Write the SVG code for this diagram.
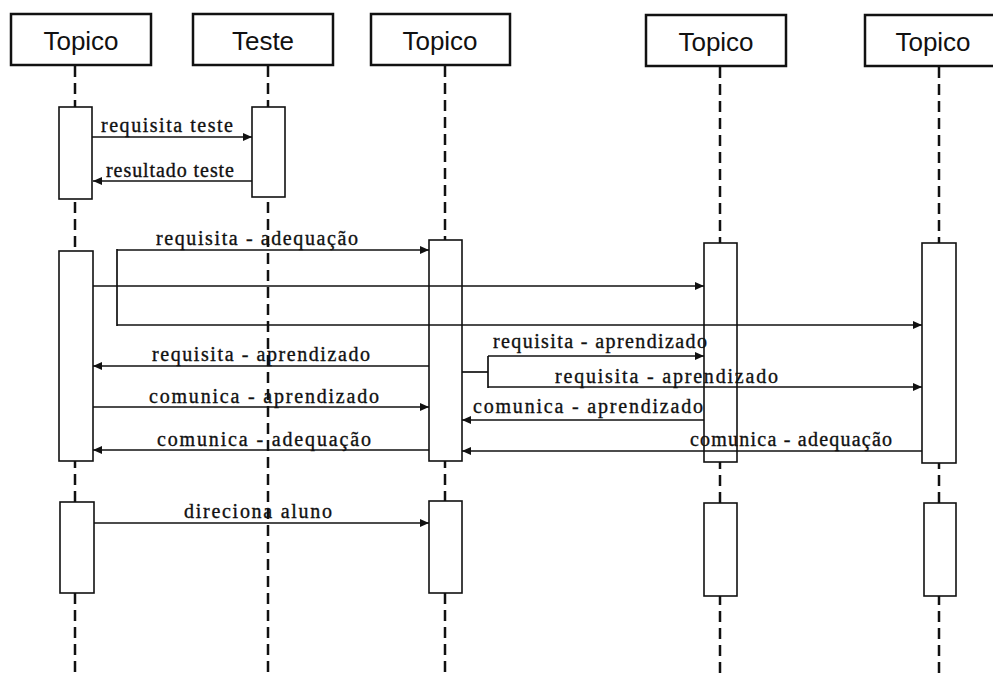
<svg xmlns="http://www.w3.org/2000/svg" width="993" height="676" viewBox="0 0 993 676">
  <defs>
    <marker id="arrow" viewBox="0 0 9 9" refX="9" refY="4.5" markerWidth="9" markerHeight="9" markerUnits="userSpaceOnUse" orient="auto">
      <path d="M0,0.5 L9,4.5 L0,8.5 Z" fill="#111"/>
    </marker>
    <style>
      .head { fill: #fff; stroke: #111; stroke-width: 2.5; }
      .headtxt { font-family: "Liberation Sans", Arial, sans-serif; font-size: 26px; fill: #111; text-anchor: middle; }
      .life { stroke: #111; stroke-width: 2.5; stroke-dasharray: 11 6; fill: none; }
      .act { fill: #fff; stroke: #111; stroke-width: 1.6; }
      .msg { stroke: #111; stroke-width: 1.7; fill: none; }
      .arr { marker-end: url(#arrow); }
      .lbl { font-family: "Liberation Serif", "Times New Roman", serif; font-size: 20px; fill: #111; stroke: #111; stroke-width: 0.35; }
    </style>
  </defs>
  <rect width="993" height="676" fill="#fff"/>

  <!-- lifelines -->
  <g id="lifelines">
    <line class="life" x1="75" y1="66" x2="75" y2="676"/>
    <line class="life" x1="268" y1="66" x2="268" y2="676"/>
    <line class="life" x1="445" y1="66" x2="445" y2="676"/>
    <line class="life" x1="720" y1="67" x2="720" y2="676"/>
    <line class="life" x1="939" y1="67" x2="939" y2="676"/>
  </g>

  <!-- participants -->
  <g id="topico1">
    <rect class="head" x="11" y="14" width="140" height="51"/>
    <text class="headtxt" x="81" y="50">Topico</text>
    <rect class="act" x="59" y="107" width="33" height="92"/>
    <rect class="act" x="59" y="251" width="34" height="210"/>
    <rect class="act" x="60" y="502" width="34" height="91"/>
  </g>
  <g id="teste">
    <rect class="head" x="193" y="14" width="140" height="51"/>
    <text class="headtxt" x="263" y="50">Teste</text>
    <rect class="act" x="252" y="107" width="33" height="90"/>
  </g>
  <g id="topico2">
    <rect class="head" x="371" y="14" width="139" height="51"/>
    <text class="headtxt" x="440" y="50">Topico</text>
    <rect class="act" x="429" y="240" width="33" height="221"/>
    <rect class="act" x="429" y="501" width="33" height="92"/>
  </g>
  <g id="topico3">
    <rect class="head" x="646" y="15" width="140" height="51"/>
    <text class="headtxt" x="716" y="51">Topico</text>
    <rect class="act" x="704" y="243" width="33" height="219"/>
    <rect class="act" x="704" y="503" width="33" height="93"/>
  </g>
  <g id="topico4">
    <rect class="head" x="865" y="15" width="140" height="51"/>
    <text class="headtxt" x="933" y="51">Topico</text>
    <rect class="act" x="922" y="243" width="34" height="220"/>
    <rect class="act" x="924" y="503" width="32" height="93"/>
  </g>

  <!-- messages -->
  <g id="connectors">
    <line class="msg arr" x1="92" y1="137" x2="252" y2="137"/>
    <line class="msg arr" x1="252" y1="181" x2="93" y2="181"/>

    <line class="msg arr" x1="117" y1="250" x2="429" y2="250"/>
    <line class="msg arr" x1="93" y1="286" x2="704" y2="286"/>
    <line class="msg arr" x1="117" y1="325" x2="922" y2="325"/>
    <line class="msg" x1="117" y1="249" x2="117" y2="326" stroke-width="3.2"/>

    <line class="msg arr" x1="429" y1="366" x2="93" y2="366"/>
    <polyline class="msg" points="462,372 488,372"/>
    <line class="msg" x1="488" y1="356" x2="488" y2="388"/>
    <line class="msg arr" x1="488" y1="356" x2="704" y2="356"/>
    <line class="msg arr" x1="488" y1="387" x2="922" y2="387"/>

    <line class="msg arr" x1="93" y1="407" x2="429" y2="407"/>
    <line class="msg arr" x1="704" y1="420" x2="462" y2="420"/>
    <line class="msg arr" x1="429" y1="450" x2="93" y2="450"/>
    <line class="msg arr" x1="922" y1="451" x2="462" y2="451"/>

    <line class="msg arr" x1="94" y1="523" x2="429" y2="523"/>
  </g>

  <!-- message labels -->
  <g id="labels">
    <text class="lbl" x="101" y="132" textLength="132" lengthAdjust="spacing">requisita teste</text>
    <text class="lbl" x="106" y="177" textLength="128" lengthAdjust="spacing">resultado teste</text>
    <text class="lbl" x="156" y="245" textLength="202" lengthAdjust="spacing">requisita - adequação</text>
    <text class="lbl" x="152" y="361" textLength="218" lengthAdjust="spacing">requisita - aprendizado</text>
    <text class="lbl" x="493" y="348" textLength="214" lengthAdjust="spacing">requisita - aprendizado</text>
    <text class="lbl" x="555" y="383" textLength="223" lengthAdjust="spacing">requisita - aprendizado</text>
    <text class="lbl" x="149" y="403" textLength="230" lengthAdjust="spacing">comunica - aprendizado</text>
    <text class="lbl" x="473" y="413" textLength="230" lengthAdjust="spacing">comunica - aprendizado</text>
    <text class="lbl" x="157" y="446" textLength="214" lengthAdjust="spacing">comunica - adequação</text>
    <text class="lbl" x="690" y="446" textLength="202" lengthAdjust="spacing">comunica - adequação</text>
    <text class="lbl" x="184" y="518" textLength="148" lengthAdjust="spacing">direciona aluno</text>
  </g>
</svg>
